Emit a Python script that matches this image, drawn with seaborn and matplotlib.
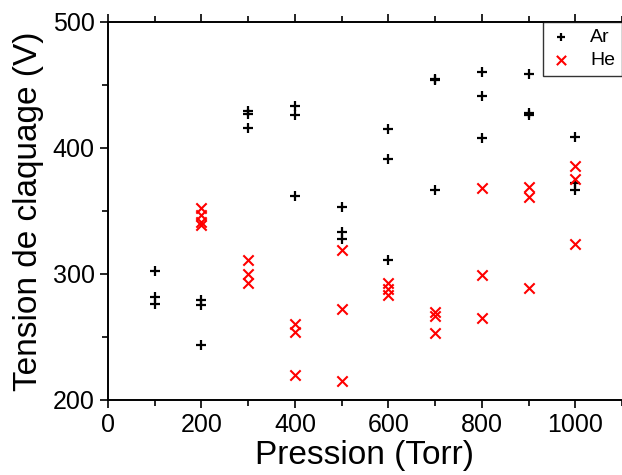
import pandas as pd
import matplotlib
matplotlib.use("Agg")
import matplotlib.pyplot as plt
from matplotlib.ticker import MultipleLocator
import seaborn as sns

##### Data

ar_pression = [100, 100, 100, 200, 200, 200, 300, 300, 300, 400, 400, 400,
               500, 500, 500, 600, 600, 600, 700, 700, 700, 800, 800, 800,
               900, 900, 900, 1000, 1000, 1000]
ar_tension = [302, 282, 276, 279, 275, 244, 429, 427, 416, 433, 426, 362,
              353, 333, 328, 415, 391, 311, 455, 454, 367, 460, 441, 408,
              459, 428, 426, 409, 372, 367]

he_pression = [200, 200, 200, 200, 300, 300, 300, 400, 400, 400,
               500, 500, 500, 600, 600, 600, 700, 700, 700, 800, 800, 800,
               900, 900, 900, 1000, 1000, 1000]
he_tension = [352, 347, 341, 339, 311, 300, 293, 260, 254, 220,
              319, 272, 215, 293, 288, 283, 270, 267, 253, 368, 299, 265,
              369, 361, 289, 386, 375, 324]

df = pd.concat([
    pd.DataFrame({"Pression": ar_pression, "Tension": ar_tension, "Gaz": "Ar"}),
    pd.DataFrame({"Pression": he_pression, "Tension": he_tension, "Gaz": "He"}),
])

##### Plot

sns.set_style("ticks")
plt.rcParams["font.family"] = ["Liberation Sans", "DejaVu Sans"]
plt.rcParams["text.color"] = "black"
plt.rcParams["axes.labelcolor"] = "black"
plt.rcParams["xtick.color"] = "black"
plt.rcParams["ytick.color"] = "black"

fig = plt.figure(figsize=(6.22, 4.75), dpi=100)
ax = fig.add_axes([0.1736, 0.158, 0.8264, 0.7957])

sub_ar = df[df["Gaz"] == "Ar"]
sub_he = df[df["Gaz"] == "He"]
sns.scatterplot(data=sub_ar, x="Pression", y="Tension", marker="+", color="black",
                s=45, linewidth=1.6, ax=ax, label="Ar")
sns.scatterplot(data=sub_he, x="Pression", y="Tension", marker="x", color="#ff0000",
                s=55, linewidth=1.5, ax=ax, label="He")

ax.set_xlim(0, 1100)
ax.set_ylim(200, 500)
ax.xaxis.set_major_locator(MultipleLocator(200))
ax.xaxis.set_minor_locator(MultipleLocator(100))
ax.yaxis.set_major_locator(MultipleLocator(100))
ax.yaxis.set_minor_locator(MultipleLocator(50))
ax.tick_params(which="both", direction="out", top=True, right=False,
               width=1.2, color="black", labelcolor="black", labelsize=18)
ax.tick_params(which="major", length=6)
ax.tick_params(which="minor", length=4)
for side in ["left", "bottom", "top"]:
    ax.spines[side].set_linewidth(1.4)
    ax.spines[side].set_color("black")
ax.spines["right"].set_visible(False)

ax.set_xlabel("Pression (Torr)", fontsize=24, labelpad=2)
ax.set_ylabel("Tension de claquage (V)", fontsize=24, labelpad=6)

leg = ax.legend(loc="upper right", fontsize=14, frameon=True, fancybox=False,
                borderaxespad=0, handlelength=1.2, handletextpad=0.9,
                borderpad=0.35, labelspacing=0.25, markerscale=0.9)
leg.get_frame().set_edgecolor("black")
leg.get_frame().set_linewidth(1.0)

fig.savefig("out.png", dpi=100)
